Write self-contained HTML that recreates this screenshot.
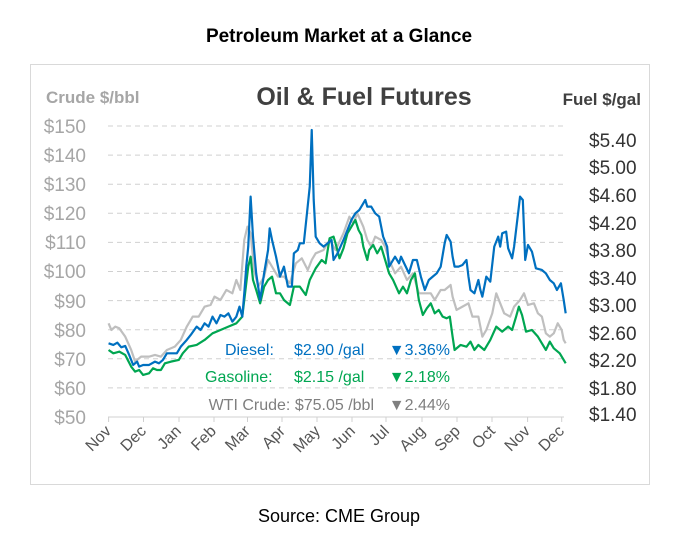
<!DOCTYPE html>
<html><head><meta charset="utf-8"><style>
body{margin:0;background:#fff;width:679px;height:541px;overflow:hidden;font-family:"Liberation Sans",sans-serif}
</style></head><body>
<svg width="679" height="541" xmlns="http://www.w3.org/2000/svg" font-family="Liberation Sans, sans-serif">
<rect width="679" height="541" fill="#fff"/>
<text x="339" y="42" text-anchor="middle" font-size="19" font-weight="bold" fill="#000">Petroleum Market at a Glance</text>
<rect x="30.5" y="64.5" width="619" height="420" fill="#fff" stroke="#d9d9d9"/>
<text x="46" y="103" font-size="17" font-weight="bold" fill="#a6a6a6">Crude $/bbl</text>
<text x="364" y="105" text-anchor="middle" font-size="25" font-weight="bold" fill="#404040">Oil &amp; Fuel Futures</text>
<text x="641" y="105" text-anchor="end" font-size="17" font-weight="bold" fill="#404040">Fuel $/gal</text>
<g stroke="#d0d0d0" stroke-dasharray="5,4" stroke-width="1">
<line x1="108" x2="564" y1="126" y2="126"/><line x1="108" x2="564" y1="155.1" y2="155.1"/><line x1="108" x2="564" y1="184.2" y2="184.2"/><line x1="108" x2="564" y1="213.3" y2="213.3"/><line x1="108" x2="564" y1="242.4" y2="242.4"/><line x1="108" x2="564" y1="271.5" y2="271.5"/><line x1="108" x2="564" y1="300.6" y2="300.6"/><line x1="108" x2="564" y1="329.7" y2="329.7"/><line x1="108" x2="564" y1="358.8" y2="358.8"/><line x1="108" x2="564" y1="387.9" y2="387.9"/>
</g>
<line x1="108" x2="564" y1="417" y2="417" stroke="#d0d0d0"/>
<g stroke="#d0d0d0"><line x1="108.6" x2="108.6" y1="417" y2="422"/><line x1="143.5" x2="143.5" y1="417" y2="422"/><line x1="179" x2="179" y1="417" y2="422"/><line x1="214" x2="214" y1="417" y2="422"/><line x1="247.5" x2="247.5" y1="417" y2="422"/><line x1="282" x2="282" y1="417" y2="422"/><line x1="317" x2="317" y1="417" y2="422"/><line x1="352" x2="352" y1="417" y2="422"/><line x1="386" x2="386" y1="417" y2="422"/><line x1="422" x2="422" y1="417" y2="422"/><line x1="457" x2="457" y1="417" y2="422"/><line x1="492" x2="492" y1="417" y2="422"/><line x1="527.6" x2="527.6" y1="417" y2="422"/><line x1="561.7" x2="561.7" y1="417" y2="422"/></g>
<g font-size="19" fill="#a6a6a6" text-anchor="end">
<text x="86" y="133">$150</text><text x="86" y="162">$140</text><text x="86" y="191">$130</text><text x="86" y="220">$120</text><text x="86" y="249">$110</text><text x="86" y="278">$100</text><text x="86" y="308">$90</text><text x="86" y="337">$80</text><text x="86" y="366">$70</text><text x="86" y="395">$60</text><text x="86" y="424">$50</text>
</g>
<g font-size="19" fill="#333" text-anchor="start">
<text x="589" y="147">$5.40</text><text x="589" y="174">$5.00</text><text x="589" y="202">$4.60</text><text x="589" y="230">$4.20</text><text x="589" y="257">$3.80</text><text x="589" y="285">$3.40</text><text x="589" y="312">$3.00</text><text x="589" y="340">$2.60</text><text x="589" y="367">$2.20</text><text x="589" y="395">$1.80</text><text x="589" y="421">$1.40</text>
</g>
<g font-size="16" fill="#555" text-anchor="end">
<text transform="translate(112,432) rotate(-45)">Nov</text><text transform="translate(147,432) rotate(-45)">Dec</text><text transform="translate(182,432) rotate(-45)">Jan</text><text transform="translate(217,432) rotate(-45)">Feb</text><text transform="translate(251,432) rotate(-45)">Mar</text><text transform="translate(286,432) rotate(-45)">Apr</text><text transform="translate(321,432) rotate(-45)">May</text><text transform="translate(356,432) rotate(-45)">Jun</text><text transform="translate(390,432) rotate(-45)">Jul</text><text transform="translate(426,432) rotate(-45)">Aug</text><text transform="translate(461,432) rotate(-45)">Sep</text><text transform="translate(496,432) rotate(-45)">Oct</text><text transform="translate(531,432) rotate(-45)">Nov</text><text transform="translate(565,432) rotate(-45)">Dec</text>
</g>
<g transform="translate(30,60) scale(0.3968,0.3333)" fill="none" stroke-linejoin="round">
<polyline vector-effect="non-scaling-stroke" stroke="#bfbfbf" stroke-width="2.2" points="198,790 205,810 215,800 225,805 240,830 255,870 265,905 280,890 300,890 315,885 330,890 345,870 365,860 380,840 395,800 410,770 425,770 440,740 455,735 465,710 480,720 495,690 510,700 520,660 530,690 540,540 548,500 556,520 565,630 575,680 590,650 600,600 610,620 625,650 640,650 655,670 670,610 685,595 700,630 710,600 720,580 740,570 755,540 770,570 790,520 805,470 815,490 825,460 840,500 850,540 860,560 870,530 885,540 895,560 905,600 920,640 935,620 950,660 965,640 980,700 995,700 1010,700 1020,720 1035,690 1045,690 1060,675 1065,710 1075,750 1090,740 1105,730 1115,770 1130,770 1140,830 1150,810 1165,760 1175,700 1185,730 1195,760 1210,770 1220,740 1235,720 1245,700 1255,735 1270,730 1280,760 1290,770 1300,820 1310,830 1320,820 1330,790 1340,810 1345,840 1350,850"/>
<polyline vector-effect="non-scaling-stroke" stroke="#00a651" stroke-width="2.2" points="198,870 210,880 225,875 240,885 255,920 265,935 275,930 285,945 300,940 310,925 320,930 330,930 340,910 355,905 375,900 385,880 400,860 420,855 440,840 460,820 480,810 500,800 520,790 535,770 542,700 550,620 556,590 562,660 570,690 580,730 590,680 600,660 610,650 620,700 630,700 640,720 655,735 665,680 680,680 695,705 705,660 720,625 735,600 745,610 755,535 765,530 770,550 780,595 790,565 800,520 810,500 820,480 828,510 835,525 840,560 850,600 855,570 865,555 875,580 885,560 895,600 905,640 915,660 930,700 940,680 950,700 960,660 970,640 980,720 990,765 1000,745 1010,730 1020,760 1030,750 1040,770 1050,775 1058,770 1065,830 1070,870 1085,855 1100,860 1110,845 1120,870 1130,855 1145,870 1160,840 1175,800 1190,815 1205,800 1215,810 1225,770 1232,740 1240,765 1250,815 1265,810 1280,830 1300,870 1310,845 1320,865 1335,880 1345,900 1350,910"/>
<polyline vector-effect="non-scaling-stroke" stroke="#0070c0" stroke-width="2.2" points="198,850 210,855 220,848 230,862 240,858 250,885 260,915 270,905 275,920 285,915 300,915 315,905 325,910 335,900 345,880 370,880 380,860 395,840 405,825 420,800 430,810 440,790 450,800 460,770 470,790 480,765 490,770 500,760 510,785 520,770 528,740 535,770 540,700 545,620 550,560 556,410 562,530 570,640 580,720 590,640 600,570 604,505 610,540 620,590 630,650 640,620 650,680 660,680 665,580 675,570 680,550 690,550 698,460 705,380 710,210 715,420 720,530 730,550 740,560 750,550 760,540 765,600 775,580 790,540 800,510 810,480 820,460 830,450 840,430 845,420 850,440 860,440 870,460 880,470 885,500 890,530 900,560 905,620 915,600 920,590 930,610 935,590 945,615 955,640 965,600 975,600 985,650 995,690 1005,660 1015,650 1025,640 1035,620 1045,550 1050,525 1060,545 1065,590 1070,620 1080,620 1090,615 1100,600 1105,650 1110,690 1120,700 1130,660 1135,690 1140,710 1150,650 1160,665 1170,560 1180,530 1185,560 1190,520 1200,515 1205,565 1215,595 1220,560 1230,460 1235,410 1242,420 1248,600 1255,555 1265,575 1275,625 1290,630 1300,640 1310,660 1320,670 1328,690 1338,670 1345,720 1350,760"/>
</g>
<g font-size="16">
<text x="225" y="355" fill="#0070c0">Diesel:</text><text x="294" y="355" fill="#0070c0">$2.90 /gal</text><text x="450" y="355" text-anchor="end" fill="#0070c0">▼3.36%</text>
<text x="205" y="382" fill="#00a651">Gasoline:</text><text x="294" y="382" fill="#00a651">$2.15 /gal</text><text x="450" y="382" text-anchor="end" fill="#00a651">▼2.18%</text>
<text x="374" y="410" text-anchor="end" fill="#7f7f7f">WTI Crude: $75.05 /bbl</text><text x="450" y="410" text-anchor="end" fill="#7f7f7f">▼2.44%</text>
</g>
<text x="339" y="522" text-anchor="middle" font-size="18" fill="#000">Source: CME Group</text>
</svg>
</body></html>
